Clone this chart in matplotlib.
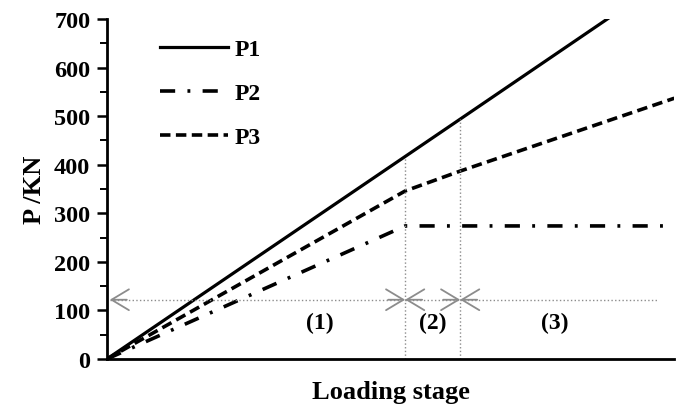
import numpy as np
import matplotlib
matplotlib.use("Agg")
import matplotlib.pyplot as plt

# loading stage (normalised), values in kN
stage_x = [0.0, 0.5256, 0.6226, 1.0]
p1 = [0.0, 417.0, 494.0, 794.0]
p2 = [0.0, 274.0, 274.0, 274.0]
p3 = [0.0, 346.0, 387.0, 537.0]
stage_bounds = [0.5256, 0.6226]
stage_labels = ["(1)", "(2)", "(3)"]
stage_label_x = [0.376, 0.575, 0.79]

plt.rcParams['font.family'] = ['Liberation Serif', 'DejaVu Serif']
plt.rcParams['font.weight'] = 'bold'

fig = plt.figure(figsize=(6.77, 4.10), dpi=100)
ax = fig.add_axes([0.158, 0.122, 0.838, 0.829])

ax.plot(stage_x, p1, color="black", lw=2.3, label="P1")
ax.plot(stage_x, p2, color="black", lw=2.6, dashes=(4.2, 3.4, 0.8, 3.4), label="P2")
ax.plot(stage_x, p3, color="black", lw=2.6, dashes=(2.9, 1.5), label="P3")

grey = "#8c8c8c"
for b in stage_bounds:
    ax.plot([b, b], [0, np.interp(b, stage_x, p1)], color=grey, lw=1, ls=":")

ya = 122
segs = [(0.005, stage_bounds[0], True), (stage_bounds[0], stage_bounds[1], True),
        (stage_bounds[1], 0.970, False)]
for x0, x1, right_head in segs:
    ax.plot([x0, x1], [ya, ya], color=grey, lw=1, ls=":")
    ax.annotate("", xy=(x0, ya), xytext=(x0 + 0.03, ya),
                arrowprops=dict(arrowstyle="->,head_length=0.5,head_width=0.3", color=grey,
                                lw=1.3, mutation_scale=25, shrinkA=0, shrinkB=0))
    if right_head:
        ax.annotate("", xy=(x1, ya), xytext=(x1 - 0.03, ya),
                    arrowprops=dict(arrowstyle="->,head_length=0.5,head_width=0.3", color=grey,
                                    lw=1.3, mutation_scale=25, shrinkA=0, shrinkB=0))

for lx, lab in zip(stage_label_x, stage_labels):
    ax.text(lx, 76, lab, ha="center", va="center", fontsize=17, fontweight="bold")

ax.set_xlim(0, 1)
ax.set_ylim(0, 700)
ax.set_yticks(np.arange(0, 701, 100))
ax.set_yticks(np.arange(50, 701, 100), minor=True)
ax.set_xticks([])
ax.tick_params(axis="y", which="major", length=7, width=1.8, labelsize=17.5, direction="out", pad=5)
ax.tick_params(axis="y", which="minor", length=5, width=1.4, direction="out")
for lab in ax.get_yticklabels():
    lab.set_fontweight("bold")
ax.spines["top"].set_visible(False)
ax.spines["right"].set_visible(False)
ax.spines["left"].set_linewidth(2)
ax.spines["bottom"].set_linewidth(2)

ax.set_ylabel("P /KN", fontsize=19, fontweight="bold", labelpad=6)
ax.set_xlabel("Loading stage", fontsize=19, fontweight="bold", labelpad=15)

ax.legend(loc="upper left", bbox_to_anchor=(0.076, 0.97), frameon=False, fontsize=17,
          handlelength=2.9, handletextpad=0.3, labelspacing=0.95, borderaxespad=0)

fig.savefig("out.png", dpi=100)
